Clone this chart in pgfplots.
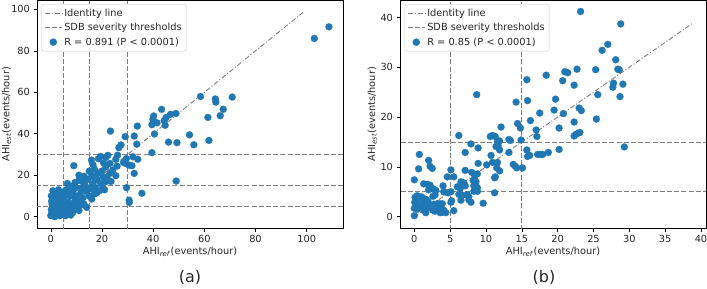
\documentclass[border=0pt]{standalone}
\usepackage{fontspec}
\setmainfont{DejaVu Sans}
\usepackage{pgfplots}
\pgfplotsset{compat=1.18}
\definecolor{mblue}{RGB}{31,119,180}
\definecolor{lgray}{RGB}{128,128,128}
\pgfplotsset{
  common/.style={
    scale only axis,
    width=306pt, height=227.5pt,
    anchor=south west,
    tick align=outside,
    major tick length=3.5pt,
    tick style={black, line width=0.6pt},
    xtick pos=bottom, ytick pos=left,
    axis line style={line width=0.6pt},
    /pgf/number format/assume math mode=true,
    tick label style={font=\fontsize{9.8}{11}\selectfont, text=black!85},
    label style={font=\fontsize{9.8}{11}\selectfont, text=black!85},
    xlabel={AHI\textsubscript{\textit{ref}}(events/hour)},
    ylabel={AHI\textsubscript{\textit{est}}(events/hour)},
    xlabel style={yshift=2pt},
    ylabel style={yshift=-3pt},
    legend cell align=left,
    legend style={at={(0.015,0.985)}, anchor=north west, draw=black!20, rounded corners=2pt,
      font=\fontsize{9.8}{11}\selectfont, text=black!85, row sep=1.6pt, inner sep=2.5pt},
    clip=true,
  },
  dots/.style={only marks, mark=*, mark size=3.5pt, mark options={fill=mblue, draw=mblue, line width=0.2pt}, forget plot},
  idl/.style={lgray, line width=0.9pt, dash pattern=on 5pt off 2pt on 1pt off 2pt},
  thr/.style={lgray, line width=0.9pt, dash pattern=on 5pt off 2.2pt},
}
\begin{document}
\begin{tikzpicture}
\path[use as bounding box] (0,0) rectangle (707pt,-289pt);
% ---------------- panel (a)
\begin{axis}[common, at={(37pt,-228pt)},
  ylabel style={yshift=-3.5pt},
  xmin=-5.4, xmax=114.2, ymin=-5.45, ymax=104.3,
  xtick={0,20,40,60,80,100}, ytick={0,20,40,60,80,100}]
\addlegendimage{idl}\addlegendentry{Identity line}
\addlegendimage{thr}\addlegendentry{SDB severity thresholds}
\addlegendimage{only marks, mark=*, mark size=3.5pt, mark options={fill=mblue, draw=mblue}}\addlegendentry{R = 0.891 (P < 0.0001)}
\addplot[dots] coordinates {
(103.0,86.0) (108.7,91.6) (70.9,57.7) (58.5,58.0) (64.3,56.8) (64.5,55.3) (67.4,51.8) (66.2,48.7)
(61.4,47.9) (61.8,36.8) (55.9,34.7) (54.2,39.5) (49.3,35.7) (46.0,36.0) (49.0,17.2) (48.9,49.8)
(46.8,49.4) (43.3,51.8) (45.1,47.9) (44.3,46.3) (44.7,44.1) (40.2,48.6) (39.9,47.0) (41.5,45.3)
(39.5,44.4) (40.5,39.9) (39.5,30.9) (33.8,43.7) (23.3,41.3) (32.6,38.9) (29.1,38.6) (33.6,35.0)
(26.6,33.3) (27.4,34.6) (32.1,28.9) (34.0,27.7) (29.5,28.0) (28.4,26.2) (29.2,25.7) (30.5,24.9)
(26.1,29.7) (25.4,27.7) (25.9,24.4) (31.7,24.6) (32.6,20.9) (29.6,14.0) (35.6,11.3) (30.6,8.0)
(30.7,6.9) (19.4,29.1) (21.5,28.6) (22.3,29.6) (18.6,28.0) (20.6,26.0) (15.9,27.3) (23.1,25.7)
(9.0,24.6) (24.2,22.5) (25.4,19.8) (23.1,20.9) (21.9,19.0) (21.5,16.9) (23.5,17.0)
(0,0.5) (0.3,1.5) (0.5,2.5) (0.2,3.5) (0.8,1) (1,3) (1.2,5) (0.5,6) (0.3,7.5) (1,8) (0.8,12.5)
(1.5,11.5) (2,10) (0.2,10) (2.5,9) (3,11.5) (1.8,6.5) (2.5,4) (3,2) (2,1.5) (3.5,5) (4,7) (4.5,3)
(4.2,1) (3.5,0.5) (1.5,0) (5,9) (5.5,6) (6,2.5) (5.8,0.5) (6.5,4.5) (7,7) (7.5,10) (6,13) (6.5,16)
(5,12) (8,5) (8.5,2) (7.8,0.8) (9,6.5) (9.5,9) (8.5,12) (10,4.5) (10.5,7.5) (11,3) (11.5,11) (10,14)
(9.5,16.5) (12,13.5) (12.5,9) (13,6) (13.5,15) (12.5,17) (14,12) (14.5,18) (15,10) (15.5,13.5)
(16,20) (16.5,16) (17,11) (17.5,14) (18,18) (18.5,21) (19,12.5) (19.5,16) (20,22) (20.5,19) (21,13)
(21.5,24) (22,18) (17,23) (15,22) (13,19.5) (11,17.5) (8,14.5) (10,10) (12,7.5) (14,4.5) (3,13)
(4,10.5) (7,3) (9,3.8) (11.5,5.5) (16,8.5) (18,11.5) (20.5,13.7)
(6.5,11) (13,15.5) (17,19) (11,20) (16.5,25)
};
\addplot[idl, forget plot] coordinates {(0,0) (98.5,98.5)};
\addplot[thr, forget plot] coordinates {(5,-20) (5,120)};
\addplot[thr, forget plot] coordinates {(15,-20) (15,120)};
\addplot[thr, forget plot] coordinates {(30,-20) (30,120)};
\addplot[thr, forget plot] coordinates {(-20,5) (130,5)};
\addplot[thr, forget plot] coordinates {(-20,15) (130,15)};
\addplot[thr, forget plot] coordinates {(-20,30) (130,30)};
\end{axis}
% ---------------- panel (b)
\begin{axis}[common, at={(400pt,-228pt)},
  xmin=-2.0, xmax=40.7, ymin=-2.27, ymax=43.4,
  xtick={0,5,...,40}, ytick={0,10,20,30,40}]
\addlegendimage{idl}\addlegendentry{Identity line}
\addlegendimage{thr}\addlegendentry{SDB severity thresholds}
\addlegendimage{only marks, mark=*, mark size=3.5pt, mark options={fill=mblue, draw=mblue}}\addlegendentry{R = 0.85 (P < 0.0001)}
\addplot[dots] coordinates {
(23.2,41.2) (28.8,38.7) (27.0,34.6) (26.2,33.4) (28.1,31.5) (28.4,29.6) (28.6,29.5) (25.3,29.5)
(22.7,29.6) (21.0,29.1) (21.4,28.9) (18.4,28.4) (20.7,27.3) (15.7,27.5) (27.8,26.8) (29.1,26.6)
(27.7,26.0) (22.3,26.4) (25.6,24.5) (28.7,24.1) (8.7,24.5) (14.2,23.0) (15.8,23.3) (19.7,23.6)
(23.0,21.8) (23.3,21.3) (19.5,21.4) (20.8,20.7) (17.5,20.8) (16.2,19.3) (25.4,19.6) (14.4,18.7)
(14.8,17.8) (12.1,18.0) (20.2,17.8) (17.0,17.4) (17.1,16.1) (22.3,19.0) (22.3,16.2) (22.5,16.5)
(22.9,16.8) (23.1,16.9) (6.2,16.3) (10.6,16.1) (10.9,16.3) (11.3,16.1) (13.2,15.5) (13.4,15.3)
(11.6,15.1) (11.9,15.2) (14.9,15.4) (7.9,14.6) (8.9,13.8) (11.4,14.1) (11.7,14.3) (11.9,13.4)
(15.7,13.4) (13.2,12.9) (7.1,12.9) (15.8,12.1) (16.1,12.3) (17.2,12.5) (17.6,12.5) (17.9,12.5)
(18.7,12.9) (20.2,13.5) (29.3,14.0) (0.7,12.5) (2.0,11.3) (10.7,12.3) (11.6,10.9) (10.9,10.9)
(8.9,10.7) (2.2,10.1) (2.5,9.7) (0.6,9.6) (5.1,9.4) (10.1,10.4) (13.8,10.5) (14.1,10.1) (14.3,9.8)
(15.1,9.8) (11.5,9.8) (11.9,9.2) (7.1,9.3) (8.8,8.6) (8.4,8.4) (8.0,8.9) (4.6,8.0) (5.5,8.0)
(11.3,8.0) (11.2,7.8) (8.4,7.5) (8.2,7.3) (8.6,7.0) (0,7.4) (6.5,7.0) (6.9,6.8) (6.0,6.0) (6.4,5.7)
(8.3,6.2) (8.6,6.3) (8.8,5.8) (7.1,6.2) (1.3,6.6) (1.8,6.5) (2.2,6.3) (4.0,6.2) (2.6,5.6) (3.0,5.3)
(2.0,5.4) (4.1,5.0) (4.7,4.8) (5.1,5.0) (8.3,5.1) (8.8,5.1) (11.2,4.8) (6.2,4.5) (6.7,4.3) (7.4,4.4)
(7.6,4.0) (7.6,3.4) (6.5,3.3) (7.9,2.9) (9.6,2.7) (0.1,3.9) (0.4,4.2) (0.6,3.6) (1.0,4.0) (1.4,3.6)
(1.7,3.4) (2.6,4.1) (2.9,4.4) (1.5,2.9) (1.9,3.1) (0.05,2.9) (0.3,2.5) (0.7,2.0) (1.1,2.5) (1.9,2.5)
(0,1.7) (0.4,1.5) (1.3,1.3) (1.9,1.7) (1.6,0.8) (2.6,1.3) (2.9,1.1) (3.2,2.6) (3.5,2.6) (3.9,2.6)
(3.4,1.7) (3.8,1.5) (4.1,1.3) (3.6,0.8) (3.9,0.9) (4.4,0.8) (5.2,3.2) (5.1,2.9) (5.5,1.2) (0,0.2)
(2.75,2.5) (2.3,1.9)
};
\addplot[idl, forget plot] coordinates {(0,0) (38.8,38.8)};
\addplot[thr, forget plot] coordinates {(5,-20) (5,60)};
\addplot[thr, forget plot] coordinates {(15,-20) (15,60)};
\addplot[thr, forget plot] coordinates {(-20,5) (60,5)};
\addplot[thr, forget plot] coordinates {(-20,15) (60,15)};
\end{axis}
\node[font=\fontsize{16}{18}\selectfont, text=black!85] at (190pt,-277pt) {(a)};
\node[font=\fontsize{16}{18}\selectfont, text=black!85] at (544pt,-277pt) {(b)};
\end{tikzpicture}
\end{document}
